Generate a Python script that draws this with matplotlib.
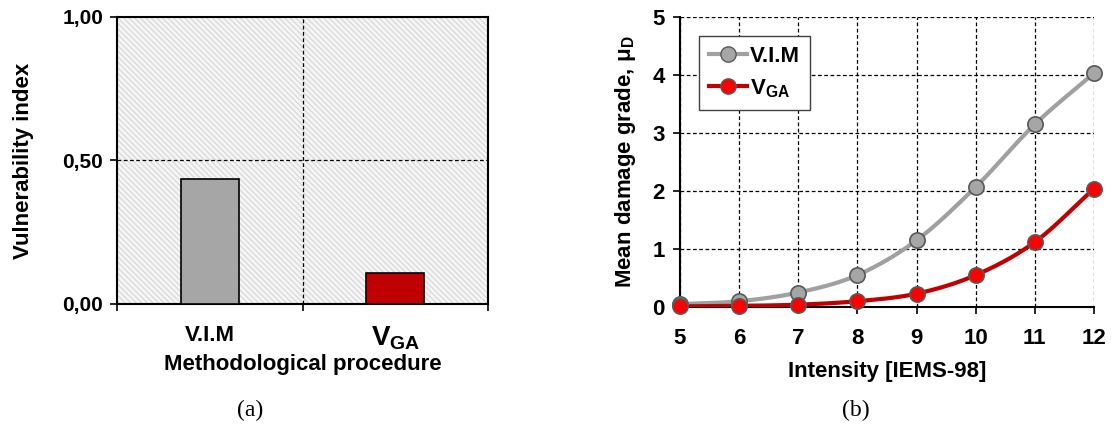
import numpy as np
import matplotlib
matplotlib.use("Agg")
import matplotlib.pyplot as plt
from matplotlib.patches import Rectangle
from matplotlib.lines import Line2D

# ---------------- data ----------------
methods = ["V.I.M", r"V$_{\mathregular{GA}}$"]
vuln_index = [0.435, 0.108]
yticks_left = [0.0, 0.5, 1.0]
yticklabels_left = ["0,00", "0,50", "1,00"]

intensity = [5, 6, 7, 8, 9, 10, 11, 12]
mu_vim = [0.05, 0.10, 0.25, 0.55, 1.15, 2.07, 3.15, 4.03]
mu_vga = [0.01, 0.02, 0.04, 0.10, 0.23, 0.55, 1.12, 2.04]

plt.rcParams['font.family'] = ['Liberation Sans', 'DejaVu Sans']
plt.rcParams['font.weight'] = 'bold'
plt.rcParams['mathtext.fontset'] = 'custom'
plt.rcParams['mathtext.rm'] = 'Liberation Sans:bold'
plt.rcParams['mathtext.default'] = 'rm'
plt.rcParams['hatch.linewidth'] = 0.8
plt.rcParams['hatch.color'] = '#d6d6d6'


def catmull_rom(x, y, n=30):
    x = np.asarray(x, float); y = np.asarray(y, float)
    px = np.concatenate([[2 * x[0] - x[1]], x, [2 * x[-1] - x[-2]]])
    py = np.concatenate([[2 * y[0] - y[1]], y, [2 * y[-1] - y[-2]]])
    xs, ys = [], []
    t = np.linspace(0, 1, n)
    for i in range(1, len(px) - 2):
        p0, p1, p2, p3 = [np.array([px[j], py[j]]) for j in (i - 1, i, i + 1, i + 2)]
        c = 0.5 * ((2 * p1)[:, None] + (-p0 + p2)[:, None] * t +
                   (2 * p0 - 5 * p1 + 4 * p2 - p3)[:, None] * t ** 2 +
                   (-p0 + 3 * p1 - 3 * p2 + p3)[:, None] * t ** 3)
        xs.append(c[0]); ys.append(c[1])
    return np.concatenate(xs), np.concatenate(ys)


fig = plt.figure(figsize=(11.12, 4.28), dpi=100)

# ---------------- left panel ----------------
ax1 = fig.add_axes([117 / 1112, 1 - 304 / 428, (488 - 117) / 1112, (304 - 17) / 428])
ax1.set_facecolor('white')
ax1.add_patch(Rectangle((0, 0), 1, 1, transform=ax1.transAxes, facecolor='#f5f5f5',
                        edgecolor='#d6d6d6', hatch='\\\\\\\\\\\\', lw=0, zorder=0))
pos = np.arange(len(methods))
ax1.bar(pos, vuln_index, width=0.31, color=['#a6a6a6', '#c00000'],
        edgecolor='black', linewidth=1.2, zorder=3)
ax1.set_xlim(-0.5, 1.5)
ax1.set_ylim(0, 1)
ax1.set_yticks(yticks_left)
ax1.set_yticklabels(yticklabels_left, fontsize=15, fontweight='bold')
ax1.set_xticks([-0.5, 0.5, 1.5])
ax1.set_xticklabels([])
ax1.set_xticks(pos, minor=True)
ax1.set_xticklabels(methods, minor=True, fontsize=16, fontweight='bold')
ax1.get_xticklabels(minor=True)[1].set_fontsize(20)
ax1.tick_params(axis='x', which='minor', length=0, pad=15)
ax1.tick_params(axis='x', which='major', length=5, width=1.2, direction='out')
ax1.tick_params(axis='y', length=5, width=1.2, direction='out', pad=5)
ax1.axhline(0.5, color='black', lw=0.9, ls=(0, (3, 2)), zorder=1)
ax1.axvline(0.5, color='black', lw=0.9, ls=(0, (3, 2)), zorder=1)
for s in ax1.spines.values():
    s.set_linewidth(1.5)
ax1.set_ylabel("Vulnerability index", fontsize=16, fontweight='bold', labelpad=20)
ax1.set_xlabel("Methodological procedure", fontsize=16, fontweight='bold', labelpad=1)

# ---------------- right panel ----------------
ax2 = fig.add_axes([680 / 1112, 1 - 307 / 428, (1094 - 680) / 1112, (307 - 17) / 428])
sx, sy = catmull_rom(intensity, mu_vim)
ax2.plot(sx, sy, color='#a0a0a0', lw=3, zorder=3)
ax2.plot(intensity, mu_vim, ls='none', marker='o', ms=11, mfc='#a6a6a6',
         mec='#595959', mew=1.2, zorder=4, clip_on=False)
sx, sy = catmull_rom(intensity, mu_vga)
ax2.plot(sx, sy, color='#c00000', lw=3, zorder=3)
ax2.plot(intensity, mu_vga, ls='none', marker='o', ms=11, mfc='#ff0000',
         mec='#595959', mew=1.2, zorder=5, clip_on=False)
ax2.set_xlim(5, 12)
ax2.set_ylim(0, 5)
ax2.set_xticks(intensity)
ax2.set_yticks(range(6))
ax2.tick_params(labelsize=16, length=5, width=1.2, pad=6)
ax2.tick_params(axis='x', pad=10)
for lab in ax2.get_xticklabels() + ax2.get_yticklabels():
    lab.set_fontweight('bold')
ax2.grid(True, color='black', lw=0.9, ls=(0, (3, 2)))
ax2.set_axisbelow(True)
ax2.spines['top'].set_visible(False)
ax2.spines['right'].set_visible(False)
ax2.spines['left'].set_linewidth(1.5)
ax2.spines['bottom'].set_linewidth(1.5)
ax2.set_xlabel("Intensity [IEMS-98]", fontsize=16, fontweight='bold', labelpad=9)
ax2.set_ylabel(r"Mean damage grade, μ$_{\mathregular{D}}$", fontsize=16,
               fontweight='bold', labelpad=10)

h1 = Line2D([], [], color='#a0a0a0', lw=3, marker='o', ms=11, mfc='#a6a6a6', mec='#595959')
h2 = Line2D([], [], color='#c00000', lw=3, marker='o', ms=11, mfc='#ff0000', mec='#595959')
leg = ax2.legend([h1, h2], ["V.I.M", r"V$_{\mathregular{GA}}$"], loc='upper left',
                 bbox_to_anchor=(0.046, 0.934), fancybox=False, edgecolor='#404040',
                 framealpha=1, prop={'size': 16, 'weight': 'bold'}, handlelength=1.7,
                 handletextpad=0.15, borderpad=0.45, labelspacing=0.45, borderaxespad=0)
leg.get_frame().set_linewidth(1.0)

fig.text(250 / 1112, 1 - 410 / 428, "(a)", family='Liberation Serif', fontweight='normal',
         fontsize=17, ha='center', va='center')
fig.text(856 / 1112, 1 - 410 / 428, "(b)", family='Liberation Serif', fontweight='normal',
         fontsize=17, ha='center', va='center')

fig.savefig("out.png", dpi=100)
